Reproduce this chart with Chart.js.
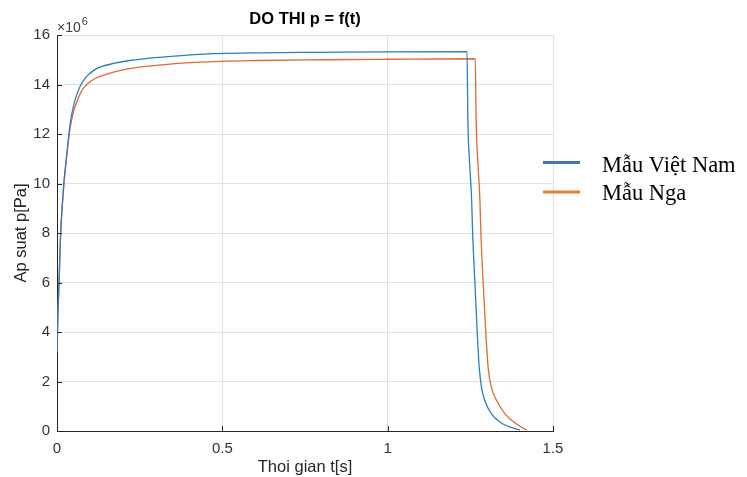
<!DOCTYPE html>
<html>
<head>
<meta charset="utf-8">
<script src="https://cdn.jsdelivr.net/npm/chart.js@4/dist/chart.umd.min.js"></script>
<style>
  html, body { margin: 0; padding: 0; background: #fff; }
  canvas { display: block; }
</style>
</head>
<body>
<canvas id="chart" width="747" height="477"></canvas>
<script>
// pressure in units of 1e6 Pa, time in s
const seriesNames = ['Mẫu Việt Nam', 'Mẫu Nga'];

const tVN = [0, 0.003, 0.006, 0.011, 0.017, 0.022, 0.031, 0.037, 0.044, 0.052, 0.06, 0.07, 0.082, 0.095, 0.11, 0.13, 0.17, 0.22, 0.31, 0.43, 0.61, 0.8, 1.0, 1.24,
             1.2425, 1.248, 1.254, 1.257, 1.264, 1.271, 1.277, 1.284, 1.294, 1.314, 1.349, 1.39, 1.40];
const pVN = [3.2, 4.8, 5.95, 7.98, 9.32, 10.2, 11.34, 12.1, 12.75, 13.25, 13.6, 13.93, 14.2, 14.4, 14.56, 14.7, 14.85, 14.97, 15.1, 15.22, 15.28, 15.3, 15.32, 15.33,
             12.6, 10.8, 9.32, 7.98, 5.95, 3.93, 2.55, 1.74, 1.22, 0.69, 0.28, 0.08, 0.04];

const tNga = [0, 0.003, 0.006, 0.011, 0.017, 0.022, 0.031, 0.038, 0.049, 0.06, 0.07, 0.08, 0.09, 0.11, 0.13, 0.16, 0.19, 0.23, 0.3, 0.43, 0.61, 0.8, 1.0, 1.265,
              1.2675, 1.273, 1.279, 1.282, 1.289, 1.297, 1.304, 1.314, 1.33, 1.355, 1.39, 1.415, 1.421];
const pNga = [3.2, 4.8, 5.95, 7.98, 9.3, 10.15, 11.3, 12.1, 12.85, 13.3, 13.62, 13.85, 14.0, 14.2, 14.33, 14.46, 14.56, 14.66, 14.77, 14.9, 14.97, 15.0, 15.02, 15.04,
              12.6, 10.8, 9.32, 7.98, 5.95, 3.93, 2.55, 1.74, 1.22, 0.69, 0.28, 0.08, 0.04];

const xTicks = [0, 0.5, 1, 1.5];
const yTicks = [0, 2, 4, 6, 8, 10, 12, 14, 16];

const lineColors = ['#2a7fc1', '#dd6a35'];
const legendColors = ['#4472c4', '#ed7d31'];
const axisColor = '#262626';
const FONT = '"Liberation Sans", Arial, sans-serif';

function zip(ts, ps) {
  return ts.map((t, i) => ({ x: t, y: ps[i] }));
}

const decor = {
  id: 'decor',
  afterDraw(chart) {
    const { ctx, chartArea: a, scales } = chart;
    ctx.save();

    // inward tick marks like matlab
    ctx.strokeStyle = axisColor;
    ctx.lineWidth = 1;
    ctx.beginPath();
    scales.x.ticks.forEach(t => {
      const px = Math.round(scales.x.getPixelForValue(t.value)) + 0.5;
      ctx.moveTo(px, a.bottom);
      ctx.lineTo(px, a.bottom - 5);
    });
    scales.y.ticks.forEach(t => {
      const py = Math.round(scales.y.getPixelForValue(t.value)) + 0.5;
      ctx.moveTo(a.left, py);
      ctx.lineTo(a.left + 5, py);
    });
    ctx.stroke();

    // title
    const cx = (a.left + a.right) / 2;
    ctx.fillStyle = '#000';
    ctx.font = 'bold 16.5px ' + FONT;
    ctx.textAlign = 'center';
    ctx.textBaseline = 'alphabetic';
    ctx.fillText('DO THI p = f(t)', cx, 24);

    // exponent
    ctx.fillStyle = '#404040';
    ctx.textAlign = 'left';
    ctx.font = '14px ' + FONT;
    ctx.fillText('\u00d710', a.left, 32);
    const w = ctx.measureText('\u00d710').width;
    ctx.font = '11px ' + FONT;
    ctx.fillText('6', a.left + w + 1, 25);

    // axis titles
    ctx.fillStyle = '#262626';
    ctx.font = '16.5px ' + FONT;
    ctx.textAlign = 'center';
    ctx.fillText('Thoi gian t[s]', cx, 472);
    ctx.save();
    ctx.translate(26, (a.top + a.bottom) / 2);
    ctx.rotate(-Math.PI / 2);
    ctx.fillText('Ap suat p[Pa]', 0, 0);
    ctx.restore();

    // legend (pasted box on the right)
    const lineY = [162.5, 192];
    const textY = [172, 199.5];
    ctx.font = '22.5px "Liberation Serif", "Times New Roman", serif';
    ctx.textAlign = 'left';
    chart.data.datasets.forEach((ds, i) => {
      ctx.strokeStyle = legendColors[i];
      ctx.lineWidth = 3;
      ctx.beginPath();
      ctx.moveTo(543, lineY[i]);
      ctx.lineTo(580, lineY[i]);
      ctx.stroke();
      ctx.fillStyle = '#000';
      ctx.fillText(ds.label, 602, textY[i]);
    });

    ctx.restore();
  }
};

new Chart(document.getElementById('chart'), {
  type: 'line',
  data: {
    datasets: [
      { label: seriesNames[0], data: zip(tVN, pVN), borderColor: lineColors[0] },
      { label: seriesNames[1], data: zip(tNga, pNga), borderColor: lineColors[1] }
    ]
  },
  options: {
    responsive: false,
    animation: false,
    devicePixelRatio: 1,
    layout: { padding: { left: 0, top: 35, right: 194, bottom: 0 } },
    elements: {
      point: { radius: 0 },
      line: { borderWidth: 1.3, cubicInterpolationMode: 'monotone' }
    },
    plugins: {
      legend: { display: false },
      tooltip: { enabled: false },
      title: { display: false }
    },
    scales: {
      x: {
        type: 'linear',
        min: 0,
        max: 1.5,
        afterBuildTicks: s => { s.ticks = xTicks.map(v => ({ value: v })); },
        afterFit: s => { s.height = 46; },
        grid: { color: '#e1e1e1', drawTicks: false },
        border: { color: axisColor, width: 1 },
        ticks: {
          padding: 9,
          color: '#333',
          font: { family: FONT, size: 15 },
          callback: v => String(v)
        }
      },
      y: {
        min: 0,
        max: 16,
        afterBuildTicks: s => { s.ticks = yTicks.map(v => ({ value: v })); },
        afterFit: s => { s.width = 57; },
        grid: { color: '#e1e1e1', drawTicks: false },
        border: { color: axisColor, width: 1 },
        ticks: {
          padding: 7,
          color: '#333',
          font: { family: FONT, size: 15 },
          callback: v => String(v)
        }
      }
    }
  },
  plugins: [decor]
});
</script>
</body>
</html>
